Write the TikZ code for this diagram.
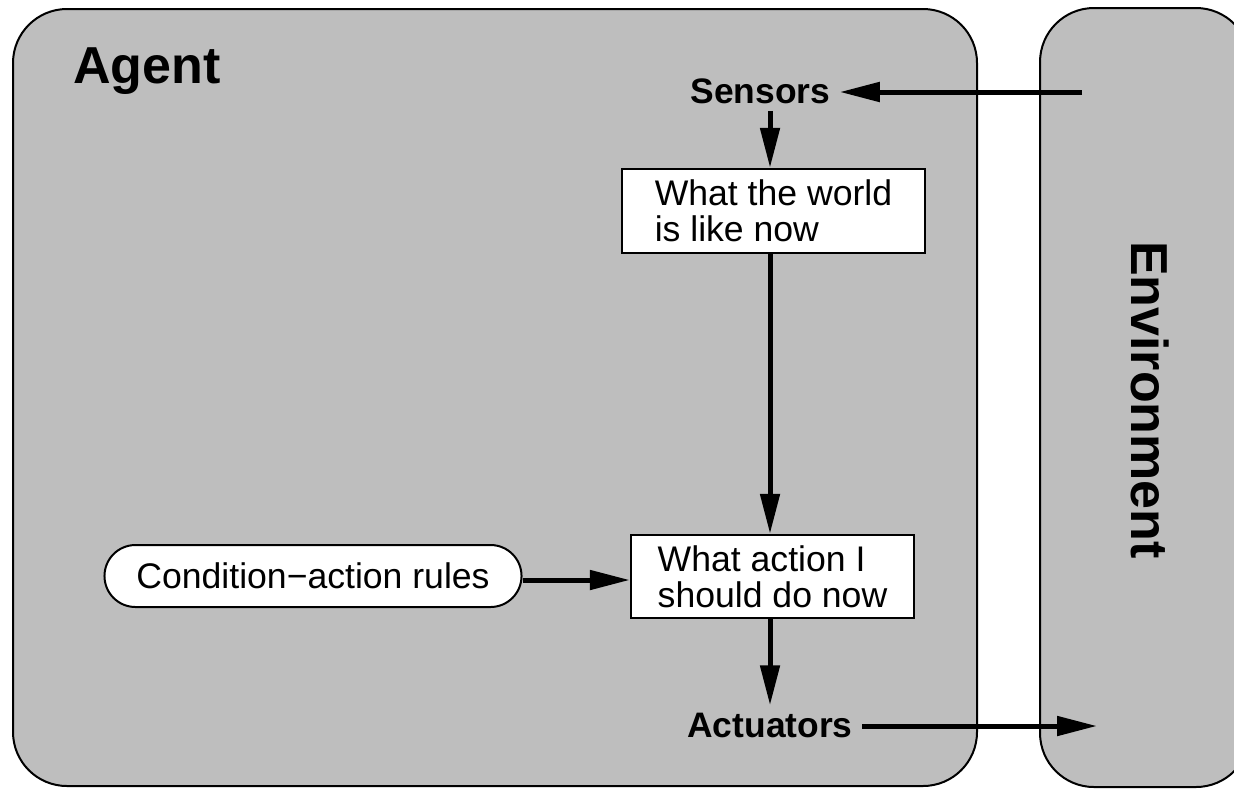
\documentclass[tikz,border=0pt]{standalone}
\usepackage{fontspec}
\setmainfont{Liberation Sans}
\usetikzlibrary{arrows.meta,shapes.misc}
\definecolor{panelgray}{RGB}{190,190,190}

\begin{document}
\begin{tikzpicture}[x=0.5pt,y=-0.5pt,
    panel/.style={draw,fill=panelgray,line width=1pt,rounded corners=27pt},
    flow/.style={line width=2.5pt,-{Triangle[length=20pt,width=9.5pt]}},
    state/.style={draw,line width=1.2pt,fill=white,align=left,
        font=\fontsize{17.8}{18}\selectfont},
    port/.style={font=\fontsize{17.7}{20}\selectfont\bfseries,
        inner xsep=4.5pt,inner ysep=3.5pt,anchor=base},
    title/.style={font=\fontsize{26}{30}\selectfont\bfseries,inner sep=0pt}]
    \useasboundingbox (0,0) rectangle (1234,788);
    \clip (0,0) rectangle (1234,788);
    \draw[panel] (13,9) rectangle (977,786);
    \draw[panel] (1040,8) rectangle (1250,787);
    \node[title,anchor=base west] (agent) at (73,83) {Agent};
    \node[title,rotate=-90] (env) at (1150,400) {Environment};
    \node[port] (sensors) at (760.5,103) {Sensors};
    \node[port] (actuators) at (770,737) {Actuators};
    \node[state,minimum width=151.5pt,minimum height=42pt] (world) at (773.5,211)
        {What the world\\is like now};
    \node[state,minimum width=141.5pt,minimum height=41.5pt] (action) at (772.5,576.5)
        {What action I\\should do now};
    \node[draw,fill=white,line width=1pt,rounded rectangle,
        minimum height=31pt,inner xsep=14.5pt,font=\fontsize{17.8}{18}\selectfont]
        (rules) at (313,576) {Condition−action rules};
    \coordinate (spine) at (770,0);
    \coordinate (envin) at (1082,92);
    \coordinate (envout) at (1097,726);
    \draw[flow] (envin) -- (envin -| sensors.east);
    \draw[flow] (sensors.south -| spine) -- (world.north -| spine);
    \draw[flow] (world.south -| spine) -- (action.north -| spine);
    \draw[flow] (action.south -| spine) -- (actuators.north -| spine);
    \draw[flow] (rules.east |- 0,580) -- (action.west |- 0,580);
    \draw[flow] (actuators.east |- envout) -- (envout);
\end{tikzpicture}
\end{document}
